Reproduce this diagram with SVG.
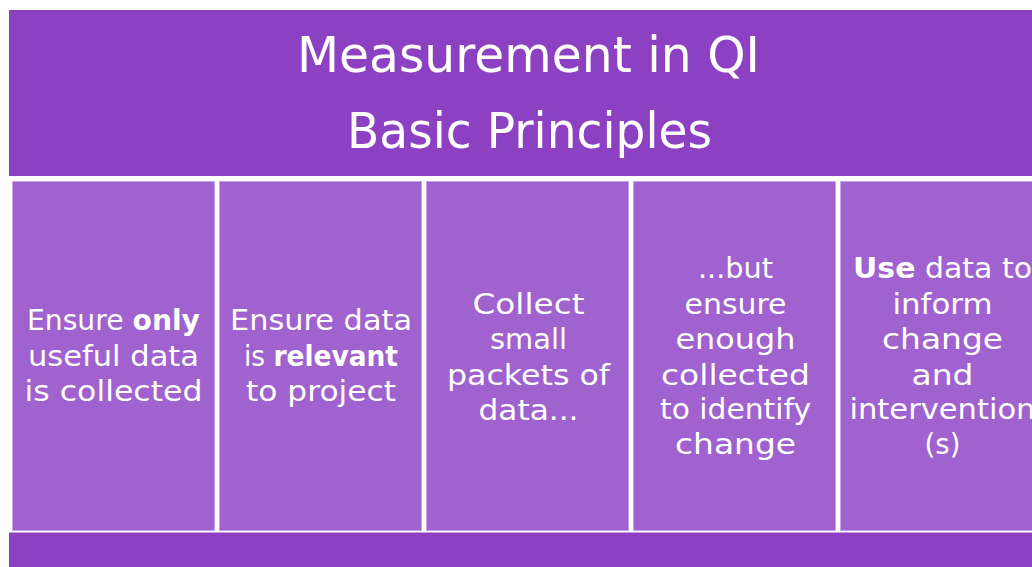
<svg xmlns="http://www.w3.org/2000/svg" width="1032" height="567" viewBox="0 0 1032 567">
  <style>
    .band { fill: #8B41C1; }
    .col { fill: #A062CE; stroke: #C7A3E4; stroke-width: 1; }
    .title { font-family: "DejaVu Sans", "Liberation Sans", sans-serif; font-size: 49px; fill: #FFFFFF; text-anchor: middle; }
    .t { font-family: "DejaVu Sans", "Liberation Sans", sans-serif; font-size: 27.5px; fill: #FFFFFF; text-anchor: middle; }
    .b { font-weight: bold; }
  </style>
  <rect x="0" y="0" width="1032" height="567" fill="#FFFFFF"/>
  <g id="header">
    <rect class="band" x="9" y="10" width="1030" height="166"/>
    <text class="title" x="528.5" y="72" textLength="463" lengthAdjust="spacingAndGlyphs">Measurement in QI</text>
    <text class="title" x="529.5" y="148" textLength="365" lengthAdjust="spacingAndGlyphs">Basic Principles</text>
  </g>
  <g id="col1">
    <rect class="col" x="12.5" y="181.5" width="202" height="349"/>
    <text class="t" x="113.5" y="330" textLength="173" lengthAdjust="spacingAndGlyphs">Ensure <tspan class="b">only</tspan></text>
    <text class="t" x="113.5" y="365.5" textLength="171" lengthAdjust="spacingAndGlyphs">useful data</text>
    <text class="t" x="113.5" y="401" textLength="178" lengthAdjust="spacingAndGlyphs">is collected</text>
  </g>
  <g id="col2">
    <rect class="col" x="219.5" y="181.5" width="202" height="349"/>
    <text class="t" x="321" y="330" textLength="182" lengthAdjust="spacingAndGlyphs">Ensure data</text>
    <text class="t" x="321" y="365.5" textLength="154" lengthAdjust="spacingAndGlyphs">is <tspan class="b">relevant</tspan></text>
    <text class="t" x="321" y="401" textLength="150" lengthAdjust="spacingAndGlyphs">to project</text>
  </g>
  <g id="col3">
    <rect class="col" x="426.5" y="181.5" width="202" height="349"/>
    <text class="t" x="528.5" y="313.5" textLength="112" lengthAdjust="spacingAndGlyphs">Collect</text>
    <text class="t" x="528.5" y="349" textLength="77" lengthAdjust="spacingAndGlyphs">small</text>
    <text class="t" x="528.5" y="384.5" textLength="163" lengthAdjust="spacingAndGlyphs">packets of</text>
    <text class="t" x="528.5" y="420" textLength="100" lengthAdjust="spacingAndGlyphs">data...</text>
  </g>
  <g id="col4">
    <rect class="col" x="633.5" y="181.5" width="202" height="349"/>
    <text class="t" x="735.5" y="278" textLength="75" lengthAdjust="spacingAndGlyphs">...but</text>
    <text class="t" x="735.5" y="313.5" textLength="102" lengthAdjust="spacingAndGlyphs">ensure</text>
    <text class="t" x="735.5" y="349" textLength="120" lengthAdjust="spacingAndGlyphs">enough</text>
    <text class="t" x="735.5" y="384.5" textLength="149" lengthAdjust="spacingAndGlyphs">collected</text>
    <text class="t" x="735.5" y="419" textLength="151" lengthAdjust="spacingAndGlyphs">to identify</text>
    <text class="t" x="735.5" y="454" textLength="121" lengthAdjust="spacingAndGlyphs">change</text>
  </g>
  <g id="col5">
    <rect class="col" x="840.5" y="181.5" width="202" height="349"/>
    <text class="t" x="942.5" y="278" textLength="179" lengthAdjust="spacingAndGlyphs"><tspan class="b">Use</tspan> data to</text>
    <text class="t" x="942.5" y="313.5" textLength="100" lengthAdjust="spacingAndGlyphs">inform</text>
    <text class="t" x="942.5" y="349" textLength="121" lengthAdjust="spacingAndGlyphs">change</text>
    <text class="t" x="942.5" y="384.5" textLength="62" lengthAdjust="spacingAndGlyphs">and</text>
    <text class="t" x="942.5" y="419" textLength="186" lengthAdjust="spacingAndGlyphs">intervention</text>
    <text class="t" x="942.5" y="454">(s)</text>
  </g>
  <g id="footer">
    <rect class="band" x="9" y="532.5" width="1030" height="40"/>
  </g>
</svg>
